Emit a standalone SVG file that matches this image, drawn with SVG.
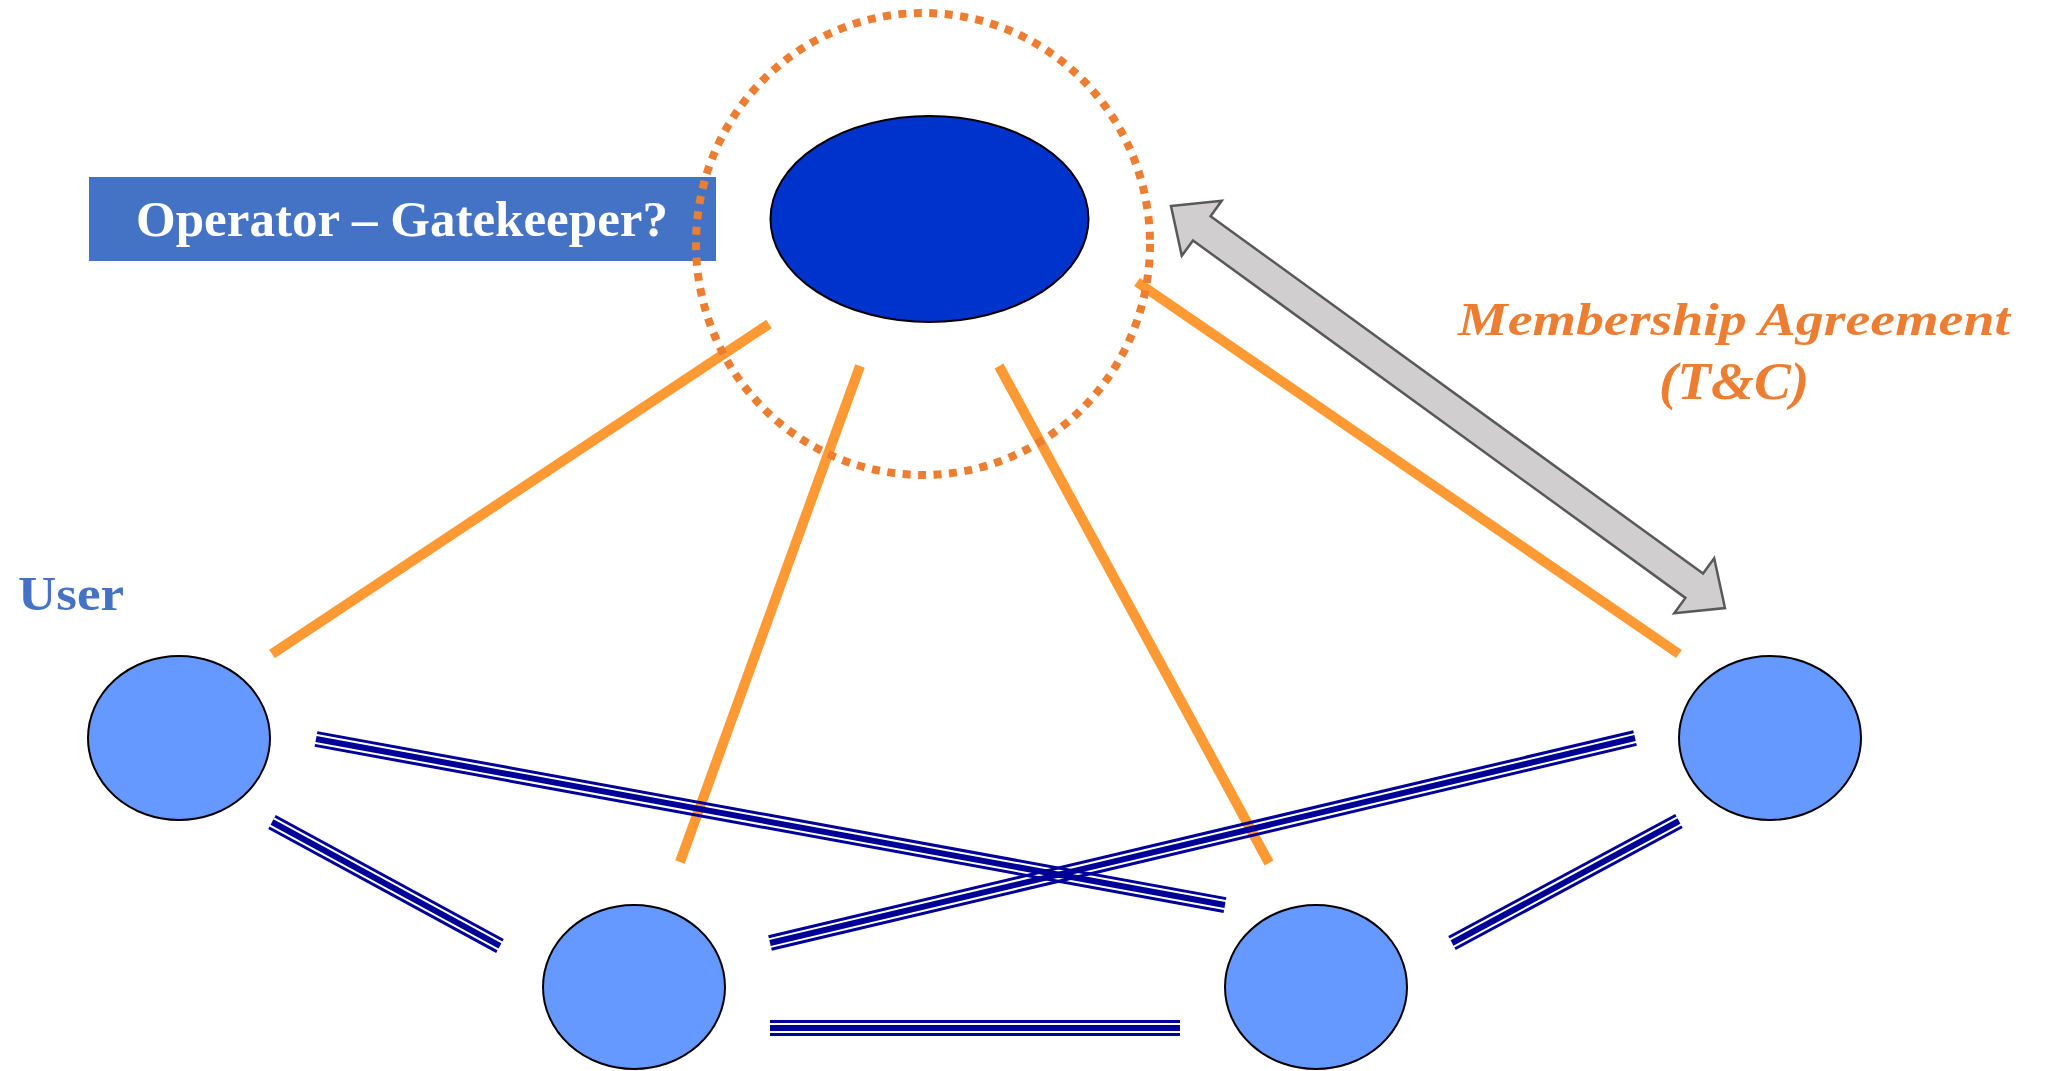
<svg xmlns="http://www.w3.org/2000/svg" width="2047" height="1071" viewBox="0 0 2047 1071">
<style>
.orange{stroke:#FF9933;stroke-width:10;fill:none}
.navy{stroke:#000099;fill:none}
.thin{stroke-width:3}
.thick{stroke-width:6}
.user{fill:#6699FF;stroke:#000;stroke-width:2}
.serif{font-family:"Liberation Serif","Times New Roman",serif}
</style>
<rect width="2047" height="1071" fill="#fff"/>

<g id="operator-label">
<rect x="89" y="177" width="627" height="84" fill="#4472C4"/>
<text x="136" y="236" class="serif" font-size="50" font-weight="bold" fill="#fff" textLength="532" lengthAdjust="spacingAndGlyphs">Operator – Gatekeeper?</text>
</g>

<g id="operator">
<ellipse cx="929.5" cy="219" rx="159" ry="103" fill="#0033CC" stroke="#000" stroke-width="2"/>
</g>

<g id="connectors-orange">
<line class="orange" x1="769" y1="324" x2="272" y2="654"/>
<line class="orange" x1="860" y1="366" x2="680" y2="862"/>
<line class="orange" x1="999" y1="366" x2="1269" y2="863"/>
<line class="orange" x1="1137" y1="282" x2="1679" y2="654"/>
</g>

<g id="gatekeeper-boundary">
<ellipse cx="923" cy="244" rx="227" ry="231" fill="none" stroke="#ED7D31" stroke-width="8" stroke-dasharray="8 7.5"/>
</g>

<g id="agreement-arrow">
<polygon transform="translate(1171,206) rotate(35.97)" points="0,0 38,-34 38,-15 646.5,-15 646.5,-34 684.5,0 646.5,34 646.5,15 38,15 38,34" fill="#D0CECE" stroke="#595959" stroke-width="2.5" stroke-linejoin="miter"/>
</g>

<g id="agreement-label" class="serif" font-style="italic" font-weight="bold" fill="#ED7D31" text-anchor="middle">
<text x="1734" y="335" font-size="47" textLength="552" lengthAdjust="spacingAndGlyphs">Membership Agreement</text>
<text x="1734" y="399" font-size="52" textLength="150" lengthAdjust="spacingAndGlyphs">(T&amp;C)</text>
</g>

<g id="user-label">
<text x="18" y="610" class="serif" font-size="48" font-weight="bold" fill="#4472C4" textLength="106" lengthAdjust="spacingAndGlyphs">User</text>
</g>

<g id="connectors-users">
<g transform="translate(316,739) rotate(10.35)">
<line class="navy thin" x1="0" y1="-6.5" x2="924" y2="-6.5"/>
<line class="navy thick" x1="0" y1="0" x2="924" y2="0"/>
<line class="navy thin" x1="0" y1="6.5" x2="924" y2="6.5"/>
</g>
<g transform="translate(272,822) rotate(28.54)">
<line class="navy thin" x1="0" y1="-6.5" x2="259.5" y2="-6.5"/>
<line class="navy thick" x1="0" y1="0" x2="259.5" y2="0"/>
<line class="navy thin" x1="0" y1="6.5" x2="259.5" y2="6.5"/>
</g>
<g transform="translate(770,943) rotate(-13.33)">
<line class="navy thin" x1="0" y1="-6.5" x2="889" y2="-6.5"/>
<line class="navy thick" x1="0" y1="0" x2="889" y2="0"/>
<line class="navy thin" x1="0" y1="6.5" x2="889" y2="6.5"/>
</g>
<g transform="translate(770,1028)">
<line class="navy thin" x1="0" y1="-6.5" x2="410" y2="-6.5"/>
<line class="navy thick" x1="0" y1="0" x2="410" y2="0"/>
<line class="navy thin" x1="0" y1="6.5" x2="410" y2="6.5"/>
</g>
<g transform="translate(1452,943) rotate(-28.26)">
<line class="navy thin" x1="0" y1="-6.5" x2="257.7" y2="-6.5"/>
<line class="navy thick" x1="0" y1="0" x2="257.7" y2="0"/>
<line class="navy thin" x1="0" y1="6.5" x2="257.7" y2="6.5"/>
</g>
</g>

<g id="user-a"><ellipse class="user" cx="179" cy="738" rx="91" ry="82"/></g>
<g id="user-b"><ellipse class="user" cx="634" cy="987" rx="91" ry="82"/></g>
<g id="user-c"><ellipse class="user" cx="1316" cy="987" rx="91" ry="82"/></g>
<g id="user-d"><ellipse class="user" cx="1770" cy="738" rx="91" ry="82"/></g>
</svg>
